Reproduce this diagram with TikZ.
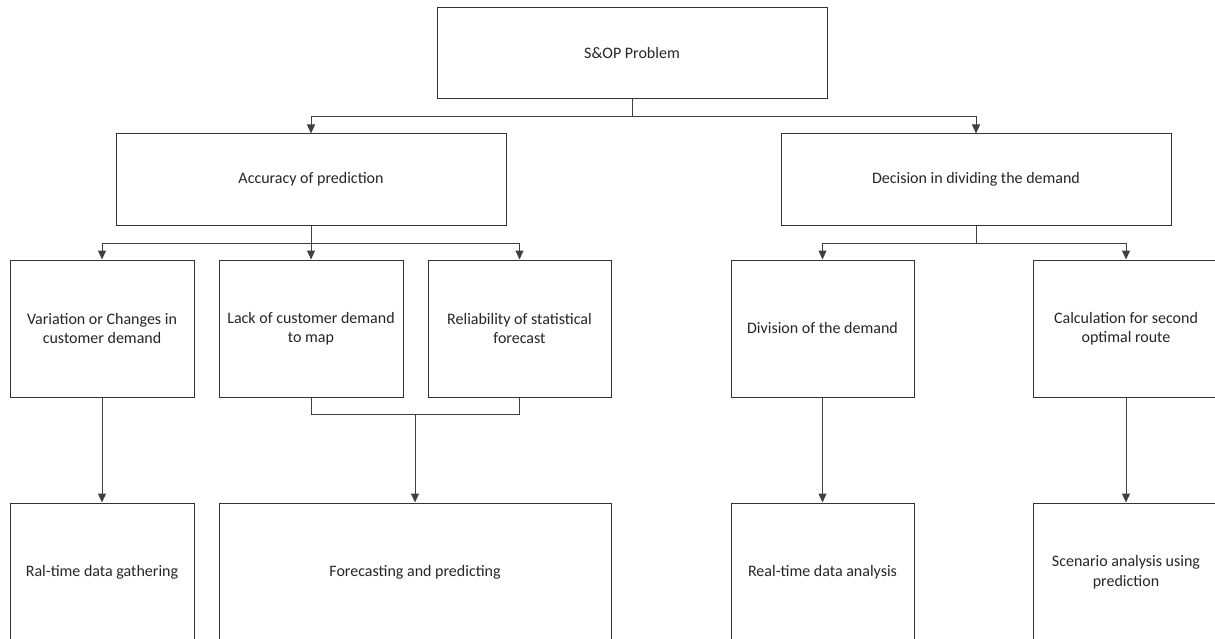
\documentclass[tikz,border=0pt]{standalone}
\usepackage{fontspec}
\setmainfont{Carlito}
\usetikzlibrary{arrows.meta,calc}
\begin{document}
\begin{tikzpicture}[x=1pt,y=-1pt,
  box/.style={draw=black!80, line width=1pt, fill=white, inner sep=0pt,
    align=center, text=black!85, font=\fontsize{16}{19.5}\selectfont},
  wide/.style={box, minimum width=390pt, minimum height=91pt},
  tall/.style={box, minimum width=184pt, minimum height=137pt},
  link/.style={draw=black!75, line width=1pt},
  arr/.style={link, -{Triangle[width=8pt,length=9pt]}}]
\useasboundingbox (0,0) rectangle (1215,639);
\clip (0,0) rectangle (1215,639);

% top level and the two problem areas
\node[wide] (top) at (632,53.5) {S\&OP Problem};
\node[wide] (acc) at (311,179.5) {Accuracy of prediction};
\node[wide] (dec) at (976,179.5) {Decision in dividing the demand};

% causes
\node[tall] (v1) at (102,328.5) {Variation or Changes in\\customer demand};
\node[tall] (v2) at (311,328.5) {Lack of customer demand\\to map};
\node[tall, minimum width=183pt] (v3) at (519.5,328.5) {Reliability of statistical\\forecast};
\node[tall, minimum width=183pt] (d1) at (822.5,328.5) {Division of the demand};
\node[tall, minimum width=186pt] (d2) at (1126,328.5) {Calculation for second\\optimal route};

% solutions
\node[tall, minimum height=138pt] (s1) at (102,572) {Ral-time data gathering};
\node[tall, minimum height=138pt, minimum width=392pt] (s2) at (415,572) {Forecasting and predicting};
\node[tall, minimum height=138pt, minimum width=183pt] (s4) at (822.5,572) {Real-time data analysis};
\node[tall, minimum height=138pt, minimum width=186pt] (s5) at (1126,572) {Scenario analysis using\\prediction};

% top split
\coordinate (j0) at ($(top.south)+(0,17)$);
\draw[link] (top.south) -- (j0);
\draw[arr] (j0) -| (acc.north);
\draw[arr] (j0) -| (dec.north);

% accuracy split
\coordinate (j1) at ($(acc.south)+(0,18)$);
\draw[link] (acc.south) -- (j1);
\draw[arr] (j1) -| (v1.north);
\draw[arr] (j1) -- (v2.north);
\draw[arr] (j1) -| (v3.north);

% decision split
\coordinate (j2) at ($(dec.south)+(0,18)$);
\draw[link] (dec.south) -- (j2);
\draw[arr] (j2) -| (d1.north);
\draw[arr] (j2) -| (d2.north);

% causes to solutions
\draw[arr] (v1.south) -- (s1.north);
\coordinate (j3) at ($(v2.south)+(0,17)$);
\draw[link] (v2.south) -- (j3) -| (v3.south);
\draw[arr] (s2.north |- j3) -- (s2.north);
\draw[arr] (d1.south) -- (s4.north);
\draw[arr] (d2.south) -- (s5.north);
\end{tikzpicture}
\end{document}
